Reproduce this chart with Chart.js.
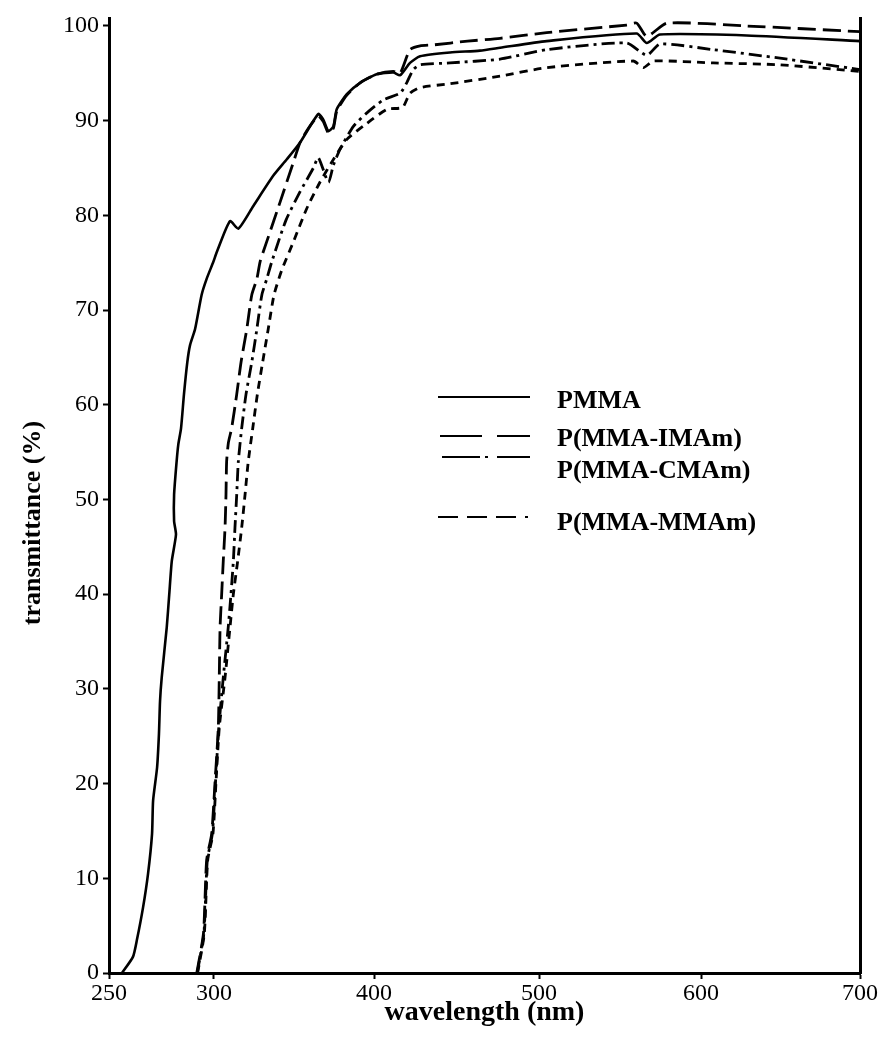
<!DOCTYPE html>
<html>
<head>
<meta charset="utf-8">
<script src="https://cdn.jsdelivr.net/npm/chart.js@4.4.1/dist/chart.umd.min.js"></script>
<style>
  body { margin: 0; background: #fff; }
  #boite { position: relative; width: 885px; height: 1044px; }
  #legende { position: absolute; left: 0; top: 0; pointer-events: none; }
  #legende text { font-family: "Liberation Serif", serif; font-weight: bold; font-size: 26px; }
</style>
</head>
<body>
<div id="boite">
  <canvas id="spectre"></canvas>
  <svg id="legende" width="885" height="1044">
    <text x="31" y="523" text-anchor="middle" dominant-baseline="central" transform="rotate(-90 31 523)">transmittance (%)</text>
    <line x1="438" y1="397" x2="530" y2="397" stroke="#000" stroke-width="2"/>
    <text x="557" y="408">PMMA</text>
    <line x1="440" y1="436" x2="530" y2="436" stroke="#000" stroke-width="2" stroke-dasharray="42 15"/>
    <text x="557" y="446">P(MMA-IMAm)</text>
    <line x1="442" y1="457" x2="530" y2="457" stroke="#000" stroke-width="2" stroke-dasharray="38 5 3 9 33"/>
    <text x="557" y="478">P(MMA-CMAm)</text>
    <line x1="438" y1="517" x2="528" y2="517" stroke="#000" stroke-width="2" stroke-dasharray="20 9"/>
    <text x="557" y="530">P(MMA-MMAm)</text>
  </svg>
</div>
<script>
// Valeurs (longueur d'onde en nm, transmittance en %)
const pmmaNm = [256.2, 261.4, 263.3, 266.2, 268.6, 270.5, 271.0, 272.9, 273.8, 274.3, 275.1, 277.5, 278.7, 279.9, 281.9, 281.0, 281.0, 282.2, 283.0, 284.3, 285.7, 287.3, 288.6, 291.0, 294.1, 296.5, 299.7, 301.7, 310.0, 315.2, 324.6, 337.1, 345.4, 353.8, 365.2, 368.3, 371.5, 374.6, 376.7, 383.0, 391.3, 401.6, 411.7, 415.8, 421.8, 427.9, 446.1, 464.2, 476.4, 504.7, 560.3, 566.5, 574.7, 628.7, 700];
const pmmaT = [0, 1.7, 3.5, 6.9, 10.5, 14.7, 18.2, 21.7, 25.3, 28.7, 31.2, 36.5, 40.0, 43.5, 46.3, 47.7, 50.5, 54.0, 55.8, 57.5, 61.1, 64.5, 66.3, 68.0, 71.6, 73.3, 75.1, 76.1, 79.4, 78.6, 81.0, 84.2, 85.9, 87.7, 90.7, 90.1, 88.9, 89.4, 91.2, 92.8, 94.0, 94.9, 95.1, 94.8, 96.1, 96.8, 97.2, 97.4, 97.7, 98.4, 99.2, 98.2, 99.1, 99.0, 98.4];

const imamNm = [291.8, 295.0, 296.5, 298.9, 300.6, 302.7, 303.3, 303.8, 304.8, 305.8, 306.9, 307.5, 307.9, 309.0, 311.0, 314.2, 316.9, 320.5, 323.6, 326.8, 328.8, 332.9, 341.3, 349.6, 353.8, 359.0, 365.2, 368.3, 371.5, 374.6, 376.7, 383.0, 391.3, 401.6, 411.7, 415.8, 421.8, 427.9, 436.0, 456.7, 476.4, 504.7, 554.1, 560.3, 566.5, 579.0, 628.7, 700];
const imamT = [0, 4.2, 11.9, 14.7, 20.0, 25.9, 31.2, 36.5, 40.0, 43.5, 47.0, 50.5, 54.0, 56.0, 57.5, 61.1, 64.5, 68.0, 71.6, 73.3, 75.1, 77.2, 81.4, 85.6, 87.7, 89.2, 90.5, 89.9, 88.7, 89.2, 91.0, 92.7, 94.0, 94.9, 95.2, 95.0, 97.5, 97.9, 98.0, 98.4, 98.7, 99.3, 100.1, 100.3, 98.9, 100.3, 100.0, 99.4];

const cmamNm = [292.0, 295.2, 296.8, 299.2, 300.9, 303.0, 305.8, 308.9, 310.6, 312.1, 313.1, 314.2, 315.2, 317.3, 320.0, 323.6, 326.8, 329.9, 333.0, 336.1, 345.0, 353.8, 362.1, 365.2, 371.5, 374.6, 378.8, 387.1, 395.4, 405.7, 415.8, 419.8, 423.8, 427.9, 446.1, 476.4, 504.7, 554.1, 566.5, 574.7, 607.7, 649.7, 700];
const cmamT = [0, 4.2, 11.9, 14.7, 20.0, 25.9, 31.2, 36.5, 40.0, 43.5, 47.0, 50.5, 54.0, 57.5, 61.1, 64.5, 68.0, 71.6, 73.3, 75.1, 79.5, 82.5, 85.0, 86.1, 83.5, 85.3, 87.0, 89.4, 90.8, 92.2, 92.9, 94.0, 95.4, 95.9, 96.1, 96.5, 97.5, 98.2, 96.9, 98.1, 97.5, 96.6, 95.4];

const mmamNm = [292.2, 295.4, 297.0, 299.5, 301.2, 303.3, 306.9, 310.0, 312.1, 314.8, 317.3, 319.4, 321.4, 324.2, 327.1, 330.4, 333.9, 337.5, 342.3, 349.6, 357.9, 366.2, 374.6, 382.9, 395.4, 407.9, 417.3, 421.8, 427.9, 446.1, 476.4, 504.7, 558.2, 564.4, 570.6, 607.7, 649.7, 700];
const mmamT = [0, 4.2, 11.9, 14.7, 20.0, 25.9, 31.2, 36.5, 40.0, 43.5, 47.0, 50.5, 54.0, 57.5, 61.1, 64.5, 68.0, 71.6, 74.2, 77.2, 80.7, 83.5, 85.9, 88.0, 89.7, 91.2, 91.4, 92.9, 93.5, 93.9, 94.7, 95.6, 96.3, 95.6, 96.3, 96.1, 95.9, 95.2];

const graduationsX = [250, 300, 400, 500, 600, 700];
const graduationsY = [0, 10, 20, 30, 40, 50, 60, 70, 80, 90, 100];

// L'axe des x de la figure n'est pas regulier (250-300 est etire), on suit ses reperes
const reperesNm = [250, 300, 400, 500, 600, 700];
const reperesFrac = [0, 0.1398, 0.3529, 0.5726, 0.7883, 1];

function versFraction(v) {
    for (let i = 1; i < reperesNm.length; i++) {
        if (v <= reperesNm[i] || i === reperesNm.length - 1) {
            let t = (v - reperesNm[i - 1]) / (reperesNm[i] - reperesNm[i - 1]);
            return reperesFrac[i - 1] + t * (reperesFrac[i] - reperesFrac[i - 1]);
        }
    }
}
function depuisFraction(f) {
    for (let i = 1; i < reperesFrac.length; i++) {
        if (f <= reperesFrac[i] || i === reperesFrac.length - 1) {
            let t = (f - reperesFrac[i - 1]) / (reperesFrac[i] - reperesFrac[i - 1]);
            return reperesNm[i - 1] + t * (reperesNm[i] - reperesNm[i - 1]);
        }
    }
}

class EchelleFigure extends Chart.LinearScale {
    getPixelForValue(value) {
        return this.getPixelForDecimal(versFraction(value));
    }
    getValueForPixel(pixel) {
        return depuisFraction(this.getDecimalForPixel(pixel));
    }
}
EchelleFigure.id = 'figure';
EchelleFigure.defaults = {};
Chart.register(EchelleFigure);

function points(xs, ys) {
    return xs.map((x, i) => ({ x: x, y: ys[i] }));
}

const police = { family: '"Liberation Serif", serif', size: 24 };
const policeTitre = { family: '"Liberation Serif", serif', size: 28, weight: 'bold' };

function serie(nom, xs, ys, tirets, epaisseur) {
    return {
        label: nom,
        data: points(xs, ys),
        borderColor: '#000',
        borderWidth: epaisseur,
        borderDash: tirets,
        pointRadius: 0,
        tension: 0.2,
        fill: false,
        clip: false
    };
}

let ctx = document.getElementById('spectre').getContext('2d');
let chart = new Chart(ctx, {
    type: 'line',
    data: {
        datasets: [
            serie('PMMA', pmmaNm, pmmaT, [], 2.6),
            serie('P(MMA-IMAm)', imamNm, imamT, [18, 7], 2.8),
            serie('P(MMA-CMAm)', cmamNm, cmamT, [13, 5, 3, 5], 2.8),
            serie('P(MMA-MMAm)', mmamNm, mmamT, [8, 6], 2.8)
        ]
    },
    options: {
        responsive: true,
        maintainAspectRatio: false,
        animation: false,
        layout: { padding: { top: 15, right: 25, left: 0, bottom: 0 } },
        plugins: {
            legend: { display: false },
            tooltip: { enabled: false }
        },
        scales: {
            x: {
                type: 'figure',
                position: 'bottom',
                min: 250,
                max: 700,
                afterBuildTicks: (s) => { s.ticks = graduationsX.map(v => ({ value: v })); },
                afterFit: (s) => { s.height = 71; },
                grid: { drawOnChartArea: false, drawTicks: true, tickLength: 6, tickWidth: 2, color: '#000' },
                border: { display: true, width: 3, color: '#000' },
                ticks: { color: '#000', font: police, padding: 0, maxRotation: 0 },
                title: { display: true, text: 'wavelength (nm)', color: '#000', font: policeTitre, padding: { top: 0, bottom: 14 } }
            },
            y: {
                position: 'left',
                min: 0,
                max: 100.8,
                afterBuildTicks: (s) => { s.ticks = graduationsY.map(v => ({ value: v })); },
                afterFit: (s) => { s.width = 109; },
                grid: { drawOnChartArea: false, drawTicks: true, tickLength: 6, tickWidth: 2, color: '#000' },
                border: { display: true, width: 3, color: '#000' },
                ticks: { color: '#000', font: police, padding: 4 }
            },
            y2: {
                position: 'right',
                min: 0,
                max: 100.8,
                afterFit: (s) => { s.width = 0; },
                grid: { display: false, drawTicks: false },
                border: { display: true, width: 3, color: '#000' },
                ticks: { display: false }
            }
        }
    }
});
</script>
</body>
</html>
